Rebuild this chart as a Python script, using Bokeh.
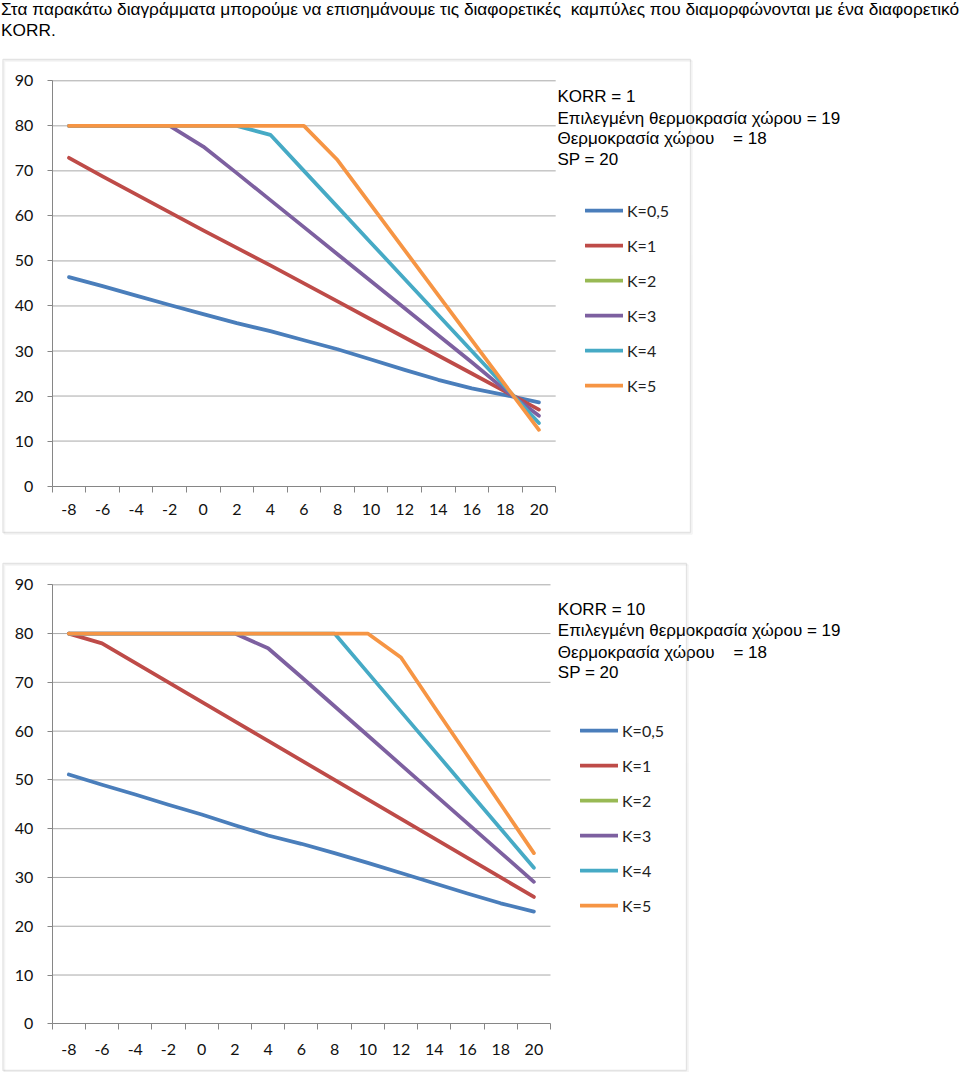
from bokeh.plotting import figure
from bokeh.models import FixedTicker, Label, BoxAnnotation, Legend, LegendItem, Range1d
from bokeh.layouts import column
from bokeh.embed import file_html
from bokeh.resources import INLINE

nan = float("nan")

# ---------------- data ----------------
T_OUT = [-8, -6, -4, -2, 0, 2, 4, 6, 8, 10, 12, 14, 16, 18, 20]
Y_TICKS = [0, 10, 20, 30, 40, 50, 60, 70, 80, 90]
SERIES_NAMES = ["K=0,5", "K=1", "K=2", "K=3", "K=4", "K=5"]

# KORR = 1
korr1_k05 = [46.4, 44.4, 42.3, 40.2, 38.2, 36.2, 34.4, 32.4, 30.4, 28.1, 25.8, 23.6, 21.7, 20.2, 18.6]
korr1_k1 = [72.9, 68.8, 64.8, 60.8, 56.8, 52.9, 49.0, 45.0, 41.0, 37.0, 33.0, 29.0, 25.0, 21.0, 17.0]
korr1_k2 = [nan, nan, nan, nan, nan, nan, nan, nan, nan, nan, nan, nan, nan, nan, nan]  # not visible in the chart
korr1_k3 = [80, 80, 80, 80, 75.4, 69.5, 63.5, 57.5, 51.5, 45.5, 39.5, 33.5, 27.5, 21.3, 15.6]
korr1_k4 = [80, 80, 80, 80, 80, 80, 78.0, 70.0, 62.0, 54.0, 46.0, 38.0, 30.0, 22.0, 14.0]
korr1_k5 = [80, 80, 80, 80, 80, 80, 80, 80, 72.4, 62.4, 52.4, 42.4, 32.4, 22.4, 12.5]

# KORR = 10
korr10_k05 = [51.1, 49.0, 47.0, 44.9, 42.9, 40.7, 38.6, 36.9, 35.0, 33.0, 30.9, 28.8, 26.7, 24.7, 23.0]
korr10_k1 = [80, 78.0, 74.0, 70.0, 66.0, 62.0, 58.0, 54.0, 50.0, 46.0, 42.0, 38.0, 34.0, 30.0, 26.0]
korr10_k2 = [nan, nan, nan, nan, nan, nan, nan, nan, nan, nan, nan, nan, nan, nan, nan]  # not visible in the chart
korr10_k3 = [80, 80, 80, 80, 80, 80, 77.0, 71.1, 65.1, 59.1, 53.1, 47.1, 41.1, 35.1, 29.1]
korr10_k4 = [80, 80, 80, 80, 80, 80, 80, 80, 80, 72.0, 64.0, 56.0, 48.0, 40.0, 32.0]
korr10_k5 = [80, 80, 80, 80, 80, 80, 80, 80, 80, 80, 75.1, 65.0, 55.0, 45.0, 35.0]

HEADER = ["Στα παρακάτω διαγράμματα μπορούμε να επισημάνουμε τις διαφορετικές\u00a0 καμπύλες που διαμορφώνονται με ένα διαφορετικό",
          "KORR."]
NOTE1 = ["KORR = 1", "Επιλεγμένη θερμοκρασία χώρου = 19", "Θερμοκρασία χώρου\u00a0\u00a0\u00a0 = 18", "SP = 20"]
NOTE10 = ["KORR = 10", "Επιλεγμένη θερμοκρασία χώρου = 19", "Θερμοκρασία χώρου\u00a0\u00a0\u00a0 = 18", "SP = 20"]

COLORS = ["#4A7EBB", "#BE4B48", "#98B954", "#7D60A0", "#46AAC5", "#F69544"]

W = 960
X_MIN, X_MAX = T_OUT[0] - 1, T_OUT[-1] + 1
Y_MIN, Y_MAX = Y_TICKS[0], Y_TICKS[-1]
AXIS_GRAY = "#868686"


def make_chart(fig_top, fig_h, plot_left, plot_right, y0_page, ytop_page, series, notes, note_x, note_ys,
               leg_x, leg_row1_y, box, x_standoff, header=None):
    # pixel geometry -> ranges (the frame covers the whole canvas)
    xpx = (plot_right - plot_left) / (X_MAX - X_MIN)
    ypx = (y0_page - ytop_page) / (Y_MAX - Y_MIN)
    x_start = X_MIN - plot_left / xpx
    x_end = X_MIN + (W - plot_left) / xpx
    y_end = Y_MIN + (y0_page - fig_top) / ypx
    y_start = Y_MIN - (fig_top + fig_h - y0_page) / ypx

    p = figure(width=W, height=fig_h, x_range=Range1d(x_start, x_end), y_range=Range1d(y_start, y_end),
               min_border=0, min_border_left=0, min_border_right=0, min_border_top=0, min_border_bottom=0,
               output_backend="svg", toolbar_location=None, tools="")
    p.title.visible = False
    p.outline_line_color = None
    p.background_fill_color = "white"
    p.border_fill_color = "white"
    p.xgrid.visible = False
    p.ygrid.visible = False

    def scr(px, py):
        return px, fig_top + fig_h - py

    # axes drawn at fixed data locations
    xa = p.xaxis[0]
    xa.fixed_location = Y_MIN
    xa.bounds = (X_MIN, X_MAX)
    xa.ticker = FixedTicker(ticks=T_OUT, minor_ticks=[t - 1 for t in T_OUT] + [T_OUT[-1] + 1])
    xa.major_label_overrides = {t: str(t) for t in T_OUT}
    xa.major_tick_out = 0
    xa.major_tick_in = 0
    xa.minor_tick_out = 6
    xa.minor_tick_in = 0
    xa.minor_tick_line_color = AXIS_GRAY
    xa.axis_line_color = AXIS_GRAY
    xa.major_label_standoff = x_standoff
    xa.major_label_text_font = "Lato"
    xa.major_label_text_font_size = "16px"
    xa.major_label_text_color = "#111111"

    ya = p.yaxis[0]
    ya.fixed_location = X_MIN
    ya.bounds = (Y_MIN, Y_MAX)
    ya.ticker = FixedTicker(ticks=Y_TICKS)
    ya.major_tick_out = 5
    ya.major_tick_in = 0
    ya.minor_tick_line_color = None
    ya.axis_line_color = AXIS_GRAY
    ya.major_tick_line_color = AXIS_GRAY
    ya.major_label_standoff = 14
    ya.major_label_text_font = "Lato"
    ya.major_label_text_font_size = "16px"
    ya.major_label_text_color = "#111111"

    # horizontal gridlines over the plot area only
    gy = Y_TICKS[1:]
    p.segment(x0=[X_MIN] * len(gy), x1=[X_MAX] * len(gy), y0=gy, y1=gy, line_color="#a9a9a9", line_width=1)

    # series
    items = []
    for name, vals, col in zip(SERIES_NAMES, series, COLORS):
        r = p.line(x=T_OUT[:len(vals)], y=vals, line_color=col, line_width=3.75,
                   line_join="round", line_cap="round")
        items.append(LegendItem(label=name, renderers=[r]))

    # legend
    row_h, spacing = 20, 15
    n = len(items)
    leg_h = n * row_h + (n - 1) * spacing
    top_y = leg_row1_y - row_h / 2
    lx, ly = scr(leg_x, top_y + leg_h)
    legend = Legend(items=items, location=(lx, ly), orientation="vertical", padding=0, margin=0,
                    spacing=spacing, glyph_width=38, glyph_height=row_h, label_height=row_h,
                    label_standoff=4, border_line_color=None, background_fill_alpha=0,
                    label_text_font="Lato", label_text_font_size="16px", label_text_color="#222222")
    p.add_layout(legend)

    # notes
    for txt, py in zip(notes, note_ys):
        sx, sy = scr(note_x, py)
        p.add_layout(Label(x=sx, y=sy, x_units="screen", y_units="screen", text=txt,
                           text_font="Liberation Sans", text_font_size="17px", text_color="#000000",
                           text_baseline="middle", text_align="left"))

    # header text
    if header:
        for txt, px, py in header:
            sx, sy = scr(px, py)
            p.add_layout(Label(x=sx, y=sy, x_units="screen", y_units="screen", text=txt,
                               text_font="Liberation Sans", text_font_size="17.3px", text_color="#000000",
                               text_baseline="middle", text_align="left"))

    # chart-area frame with a light shadow
    bl, bt, br, bb = box
    l, t = scr(bl, bt)
    r, b = scr(br, bb)
    p.add_layout(BoxAnnotation(left=l + 1.5, right=r + 1.5, top=t - 1.5, bottom=b - 1.5,
                               left_units="screen", right_units="screen",
                               top_units="screen", bottom_units="screen",
                               fill_alpha=0, line_color="#dcdcdc", line_width=1.5))
    p.add_layout(BoxAnnotation(left=l, right=r, top=t, bottom=b,
                               left_units="screen", right_units="screen",
                               top_units="screen", bottom_units="screen",
                               fill_color="white", fill_alpha=0, line_color="#a2a2a2", line_width=1.3))
    return p


p1 = make_chart(fig_top=0, fig_h=547, plot_left=51.7, plot_right=555.2, y0_page=485.6, ytop_page=80.3,
                series=[korr1_k05, korr1_k1, korr1_k2, korr1_k3, korr1_k4, korr1_k5],
                notes=NOTE1, note_x=557, note_ys=[96.4, 117.5, 138.3, 158.5],
                leg_x=585, leg_row1_y=210, box=(2.5, 59, 690, 532), x_standoff=12,
                header=[(HEADER[0], 0.5, 8.5), (HEADER[1], 0.5, 29.5)])

p2 = make_chart(fig_top=547, fig_h=525, plot_left=51.7, plot_right=550.0, y0_page=1023.3, ytop_page=584.3,
                series=[korr10_k05, korr10_k1, korr10_k2, korr10_k3, korr10_k4, korr10_k5],
                notes=NOTE10, note_x=557.3, note_ys=[609, 630, 651.5, 671.8],
                leg_x=580, leg_row1_y=730, box=(2.5, 563, 686, 1070), x_standoff=14)

layout = column(p1, p2, spacing=0)
open("out.html", "w").write(file_html(layout, INLINE))
